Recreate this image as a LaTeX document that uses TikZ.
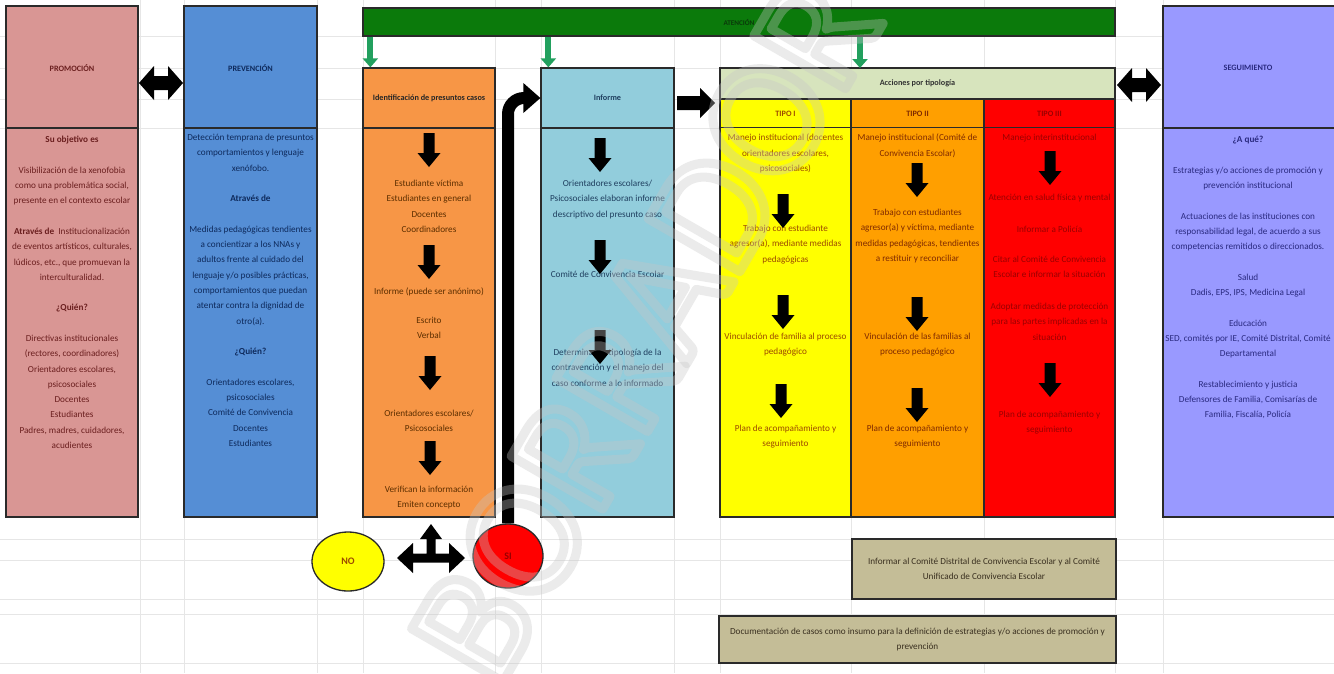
\documentclass[tikz,border=0pt]{standalone}
\usepackage{fontspec}
\setmainfont{Carlito}
\usetikzlibrary{arrows.meta,shapes.geometric,calc}
\definecolor{promf}{HTML}{D99694}
\definecolor{promt}{HTML}{6B1F1F}
\definecolor{prevf}{HTML}{558ED5}
\definecolor{prevt}{HTML}{0E2A5C}
\definecolor{identf}{HTML}{F79646}
\definecolor{identt}{HTML}{5C2E00}
\definecolor{inff}{HTML}{92CDDC}
\definecolor{inft}{HTML}{1F3F5F}
\definecolor{accf}{HTML}{D7E4BD}
\definecolor{tonef}{HTML}{FFFF00}
\definecolor{tonet}{HTML}{9C4A00}
\definecolor{ttwof}{HTML}{FF9F00}
\definecolor{ttwot}{HTML}{7F2A00}
\definecolor{tthrf}{HTML}{FF0000}
\definecolor{tthrt}{HTML}{990000}
\definecolor{segf}{HTML}{9999FF}
\definecolor{segt}{HTML}{2A2A80}
\definecolor{atenf}{HTML}{0B7A0B}
\definecolor{atent}{HTML}{0A3A0A}
\definecolor{garrc}{HTML}{22A05E}
\definecolor{khaki}{HTML}{C4BD97}
\definecolor{khakit}{HTML}{3A3020}
\definecolor{gridc}{HTML}{E6E6E6}
\definecolor{edge}{HTML}{2A2A2A}
\newcommand\bodyfs{\fontsize{9.2}{15.3}\selectfont}
\newcommand\hdrfs{\fontsize{8.2}{10}\selectfont\bfseries}
\begin{document}
\begin{tikzpicture}[x=1pt,y=-1pt,
  box/.style={rectangle, inner sep=0pt, line width=1.3pt, draw=edge},
  txt/.style={align=center, inner sep=0pt, anchor=north, font=\bodyfs},
  hdr/.style={align=center, inner sep=0pt, font=\hdrfs},
  divline/.style={line width=1.3pt, draw=edge},
  gridline/.style={line width=0.6pt, draw=gridc},
  garr/.style={line width=6pt, draw=garrc, -{Triangle[length=9pt,width=15pt]}},
  conn/.style={line width=12pt, draw=black, rounded corners=16pt},
  darr/.pic={\fill[black] (-5.5,-17) -- (5.5,-17) -- (5.5,3) -- (11.5,3) -- (0,17) -- (-11.5,3) -- (-5.5,3) -- cycle;},
  rarr/.pic={\fill[black] (-19,-7) -- (4,-7) -- (4,-15) -- (19,0) -- (4,15) -- (4,7) -- (-19,7) -- cycle;},
  dblarr/.pic={\fill[black] (-22,0) -- (-7,-17) -- (-7,-7) -- (7,-7) -- (7,-17) -- (22,0) -- (7,17) -- (7,7) -- (-7,7) -- (-7,17) -- cycle;},
  triarr/.pic={\fill[black] (-34,0) -- (-18,-15) -- (-18,-4.5) -- (-4.5,-4.5) -- (-4.5,-19) -- (-11,-19) -- (0,-34) -- (11,-19) -- (4.5,-19) -- (4.5,-4.5) -- (18,-4.5) -- (18,-15) -- (34,0) -- (18,15) -- (18,4.5) -- (-18,4.5) -- (-18,15) -- cycle;}
]
\useasboundingbox (0,0) rectangle (1334,673);
\clip (0,0) rectangle (1334,673);
\fill[white] (0,0) rectangle (1334,673);
% spreadsheet grid
\foreach \gy in {36,68,99,128,539,560,599,614,663}
  \draw[gridline] (0,\gy) -- (1334,\gy);
\foreach \gx in {140,184,317,363,495,541,674,720,851,984,1115,1163}
  \draw[gridline] (\gx,0) -- (\gx,673);

% ---------- PROMOCION ----------
\node[box, fill=promf, minimum width=132pt, minimum height=511pt] (prom) at (72,261.5) {};
\draw[divline] (6,128) -- (138,128);
\node[hdr, text=promt] (promh) at (72,68) {PROMOCIÓN};
\node[txt, text=promt] (pr1) at (72,136) {\textbf{Su objetivo es}};
\node[txt, text=promt] (pr2) at (72,166.6) {Visibilización de la xenofobia\\como una problemática social,\\presente en el contexto escolar};
\node[txt, text=promt] (pr3) at (72,227.8) {\textbf{Através de}\ \ Institucionalización\\de eventos artísticos, culturales,\\lúdicos, etc., que promuevan la\\interculturalidad.};
\node[txt, text=promt] (pr4) at (72,304.3) {\textbf{¿Quién?}};
\node[txt, text=promt] (pr5) at (72,334.9) {Directivas institucionales\\(rectores, coordinadores)\\Orientadores escolares,\\psicosociales\\Docentes\\Estudiantes\\Padres, madres, cuidadores,\\acudientes};

% ---------- PREVENCION ----------
\node[box, fill=prevf, minimum width=133pt, minimum height=511pt] (prev) at (250.5,261.5) {};
\draw[divline] (184,128) -- (317,128);
\node[hdr, text=prevt] (prevh) at (250.5,68) {PREVENCIÓN};
\node[txt, text=prevt] (pv1) at (250.5,134) {Detección temprana de presuntos\\comportamientos y lenguaje\\xenófobo.};
\node[txt, text=prevt] (pv2) at (250.5,195.2) {\textbf{Através de}};
\node[txt, text=prevt] (pv3) at (250.5,225.8) {Medidas pedagógicas tendientes\\a concientizar a los NNAs y\\adultos frente al cuidado del\\lenguaje y/o posibles prácticas,\\comportamientos que puedan\\atentar contra la dignidad de\\otro(a).};
\node[txt, text=prevt] (pv4) at (250.5,348.2) {\textbf{¿Quién?}};
\node[txt, text=prevt] (pv5) at (250.5,378.8) {Orientadores escolares,\\psicosociales\\Comité de Convivencia\\Docentes\\Estudiantes};

% ---------- ATENCION ----------
\node[box, fill=atenf, minimum width=752pt, minimum height=28pt, font=\fontsize{7.2}{8}\selectfont\bfseries, text=atent] (aten) at (739,22) {ATENCIÓN};

% ---------- IDENTIFICACION ----------
\node[box, fill=identf, minimum width=132pt, minimum height=449pt] (idbox) at (429,292.5) {};
\draw[divline] (363,128) -- (495,128);
\node[hdr, text=black!85] (idh) at (429,98) {Identificación de presuntos casos};
\node[txt, text=identt] (id1) at (429,180) {Estudiante víctima\\Estudiantes en general\\Docentes\\Coordinadores};
\node[txt, text=identt] (id2) at (429,288) {Informe (puede ser anónimo)};
\node[txt, text=identt] (id3) at (429,317) {Escrito\\Verbal};
\node[txt, text=identt] (id4) at (429,410) {Orientadores escolares/\\Psicosociales};
\node[txt, text=identt] (id5) at (429,486) {Verifican la información\\Emiten concepto};
\pic at (429,150) {darr};
\pic at (429,262) {darr};
\pic at (430,373) {darr};
\pic at (430,458) {darr};

% ---------- INFORME ----------
\node[box, fill=inff, minimum width=133pt, minimum height=449pt] (infbox) at (607.5,292.5) {};
\draw[divline] (541,128) -- (674,128);
\node[hdr, text=inft] (infh) at (607.5,98) {Informe};
\node[txt, text=inft] (in1) at (607.5,180) {Orientadores escolares/\\Psicosociales elaboran informe\\descriptivo del presunto caso};
\node[txt, text=inft] (in2) at (607.5,271) {Comité de Convivencia Escolar};
\node[txt, text=inft] (in3) at (607.5,349) {Determinan la tipología de la\\contravención y el manejo del\\caso conforme a lo informado};
\pic at (600,155) {darr};
\pic at (600,257) {darr};
\pic at (600,347) {darr};

% ---------- ACCIONES ----------
\node[box, fill=accf, minimum width=395pt, minimum height=31pt, font=\hdrfs, text=black!80] (acc) at (917.5,83.5) {Acciones por tipología};
\node[box, fill=tonef, minimum width=131pt, minimum height=418pt] (tone) at (785.5,308) {};
\node[box, fill=ttwof, minimum width=133pt, minimum height=418pt] (ttwo) at (917.5,308) {};
\node[box, fill=tthrf, minimum width=131pt, minimum height=418pt] (tthr) at (1049.5,308) {};
\draw[divline] (720,127.5) -- (1115,127.5);
\node[hdr, text=tonet] (toneh) at (785.5,114) {TIPO I};
\node[hdr, text=ttwot] (ttwoh) at (917.5,114) {TIPO II};
\node[hdr, text=tthrt] (tthrh) at (1049.5,114) {TIPO III};
% tipo I
\node[txt, text=tonet] (t1a) at (785.5,134) {Manejo institucional (docentes\\orientadores escolares,\\psicosociales)};
\node[txt, text=tonet] (t1b) at (785.5,225) {Trabajo con estudiante\\agresor(a), mediante medidas\\pedagógicas};
\node[txt, text=tonet] (t1c) at (785.5,333) {Vinculación de familia al proceso\\pedagógico};
\node[txt, text=tonet] (t1d) at (785.5,425) {Plan de acompañamiento y\\seguimiento};
\pic at (783,211) {darr};
\pic at (783,312) {darr};
\pic at (781,401) {darr};
% tipo II
\node[txt, text=ttwot] (t2a) at (917.5,134) {Manejo institucional (Comité de\\Convivencia Escolar)};
\node[txt, text=ttwot] (t2b) at (917.5,209) {Trabajo con estudiantes\\agresor(a) y víctima, mediante\\medidas pedagógicas, tendientes\\a restituir y reconciliar};
\node[txt, text=ttwot] (t2c) at (917.5,333) {Vinculación de las familias al\\proceso pedagógico};
\node[txt, text=ttwot] (t2d) at (917.5,425) {Plan de acompañamiento y\\seguimiento};
\pic at (917,180) {darr};
\pic at (917,314) {darr};
\pic at (917,405) {darr};
% tipo III
\node[txt, text=tthrt] (t3a) at (1049.5,134) {Manejo interinstitucional};
\node[txt, text=tthrt] (t3b) at (1049.5,194) {Atención en salud física y mental};
\node[txt, text=tthrt] (t3c) at (1049.5,226) {Informar a Policía};
\node[txt, text=tthrt] (t3d) at (1049.5,256) {Citar al Comité de Convivencia\\Escolar e informar la situación};
\node[txt, text=tthrt] (t3e) at (1049.5,303) {Adoptar medidas de protección\\para las partes implicadas en la\\situación};
\node[txt, text=tthrt] (t3f) at (1049.5,411) {Plan de acompañamiento y\\seguimiento};
\pic at (1050,168) {darr};
\pic at (1050,380) {darr};

% ---------- SEGUIMIENTO ----------
\node[box, fill=segf, minimum width=177pt, minimum height=511pt] (seg) at (1251.5,261.5) {};
\draw[divline] (1163,128) -- (1340,128);
\node[hdr, text=segt] (segh) at (1248,68) {SEGUIMIENTO};
\node[txt, text=segt] (s1) at (1248,136) {\textbf{¿A qué?}};
\node[txt, text=segt] (s2) at (1248,166.6) {Estrategias y/o acciones de promoción y\\prevención institucional};
\node[txt, text=segt] (s3) at (1248,212.5) {Actuaciones de las instituciones con\\responsabilidad legal, de acuerdo a sus\\competencias remitidos o direccionados.};
\node[txt, text=segt] (s4) at (1248,273.7) {Salud\\Dadis, EPS, IPS, Medicina Legal};
\node[txt, text=segt] (s5) at (1248,319.6) {Educación\\SED, comités por IE, Comité Distrital, Comité\\Departamental};
\node[txt, text=segt] (s6) at (1248,380.8) {Restablecimiento y justicia\\Defensores de Familia, Comisarías de\\Familia, Fiscalía, Policía};

% ---------- connectors between columns ----------
\pic at (161,83) {dblarr};
\pic at (1139,85) {dblarr};
\pic at (696,103) {rarr};

% green arrows from ATENCION
\coordinate (g1) at ($(idbox.north west)+(8,0)$);
\coordinate (g2) at ($(infbox.north west)+(8,0)$);
\coordinate (g3) at (860,68);
\draw[garr] (aten.south -| g1) -- (g1);
\draw[garr] (aten.south -| g2) -- (g2);
\draw[garr] (aten.south -| g3) -- (g3);

% ---------- bottom ----------
\node[ellipse, draw=edge, line width=1.3pt, fill=tonef, minimum width=72pt, minimum height=59pt, inner sep=0pt, font=\fontsize{10}{12}\selectfont\bfseries, text=tonet] (no) at (348,561.5) {NO};
\node[ellipse, draw=edge, line width=1.3pt, fill=tthrf, minimum width=70pt, minimum height=64pt, inner sep=0pt, font=\fontsize{10}{12}\selectfont\bfseries, text=tthrt] (si) at (508,556) {SI};
\pic at (431,558) {triarr};
\coordinate (infw) at (infbox.west |- infh);
\draw[conn] (si.north) |- ($(infw)+(-14,0)$);
\fill[black] ($(infw)+(-17,-15)$) -- (infw) -- ($(infw)+(-17,15)$) -- cycle;

\node[box, fill=khaki, minimum width=264pt, minimum height=60pt, align=center, font=\bodyfs, text=khakit] (infc) at (984,569) {Informar al Comité Distrital de Convivencia Escolar y al Comité\\Unificado de Convivencia Escolar};
\node[box, fill=khaki, minimum width=397pt, minimum height=47pt, align=center, font=\bodyfs, text=khakit] (doc) at (917.5,639.5) {Documentación de casos como insumo para la definición de estrategias y/o acciones de promoción y\\prevención};

% ---------- watermark ----------
\makeatletter
\node[rotate=60, text=gray!45, opacity=0.35, inner sep=0pt, font=\fontsize{165}{165}\selectfont] (wm) at (645,330) {\pgfsys@invoke{1 Tr 9 w 1 j}BORRADOR\pgfsys@invoke{0 Tr}};
\makeatother
\end{tikzpicture}
\end{document}
